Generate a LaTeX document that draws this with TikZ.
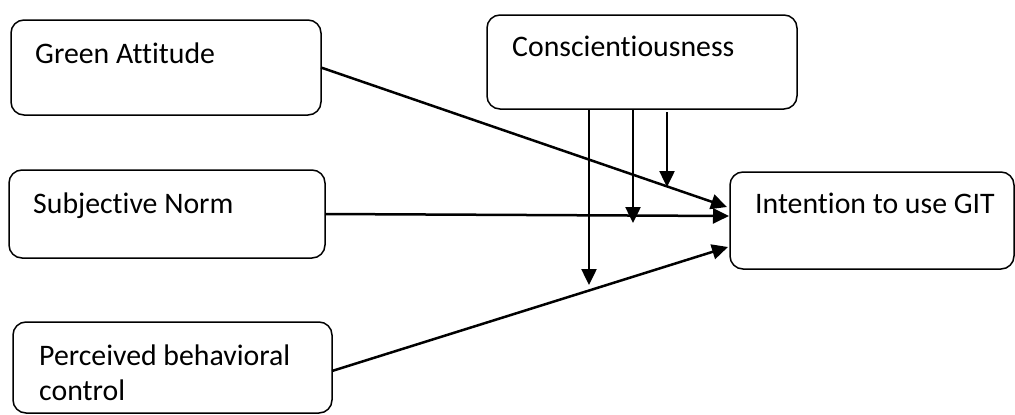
\documentclass[tikz,border=0pt]{standalone}
\usepackage{fontspec}
\setmainfont[Ligatures=NoCommon]{Carlito}
\usetikzlibrary{arrows.meta}
\begin{document}
\begin{tikzpicture}[x=1pt,y=-1pt,
  box/.style={draw,rounded corners=13pt,line width=1.5pt,inner sep=0pt,outer sep=0pt,anchor=north west},
  lbl/.style={anchor=base west,inner sep=0pt,font=\fontsize{29.8}{35}\selectfont,align=left},
  arr/.style={line width=2.5pt,-{Triangle[length=16pt,width=15pt]}}]
\useasboundingbox (0,0) rectangle (1015,415);
% boxes
\node[box,minimum width=310pt,minimum height=95pt] (GA) at (11,20) {};
\node[box,minimum width=316pt,minimum height=88pt] (SN) at (9,170) {};
\node[box,minimum width=319pt,minimum height=91pt] (PB) at (13,322) {};
\node[box,minimum width=310pt,minimum height=94pt] (CO) at (487,15) {};
\node[box,minimum width=284pt,minimum height=97pt] (IN) at (730,172) {};
% labels
\node[lbl] (tGA) at (35,63) {Green Attitude};
\node[lbl] (tSN) at (33,213) {Subjective Norm};
\node[lbl] (tPB) at (39,400) {Perceived behavioral\\control};
\node[lbl] (tCO) at (512,56) {Conscientiousness};
\node[lbl] (tIN) at (755,213) {Intention to use GIT};
% targets
\coordinate (e1) at (727,207);
\coordinate (e2) at (729,216);
\coordinate (e3) at (728,247);
\coordinate (m1) at (589,285);
\coordinate (m2) at (633,223);
\coordinate (m3) at (667,187);
\coordinate (s3) at (667,112);
% arrows
\draw[arr] (GA.east) -- (e1);
\draw[arr] (SN.east) -- (e2);
\draw[arr] (PB.east |- 0,371) -- (e3);
\draw[arr] (CO.south -| m1) -- (m1);
\draw[arr] (CO.south -| m2) -- (m2);
\draw[arr] (s3) -- (m3);
\end{tikzpicture}
\end{document}
